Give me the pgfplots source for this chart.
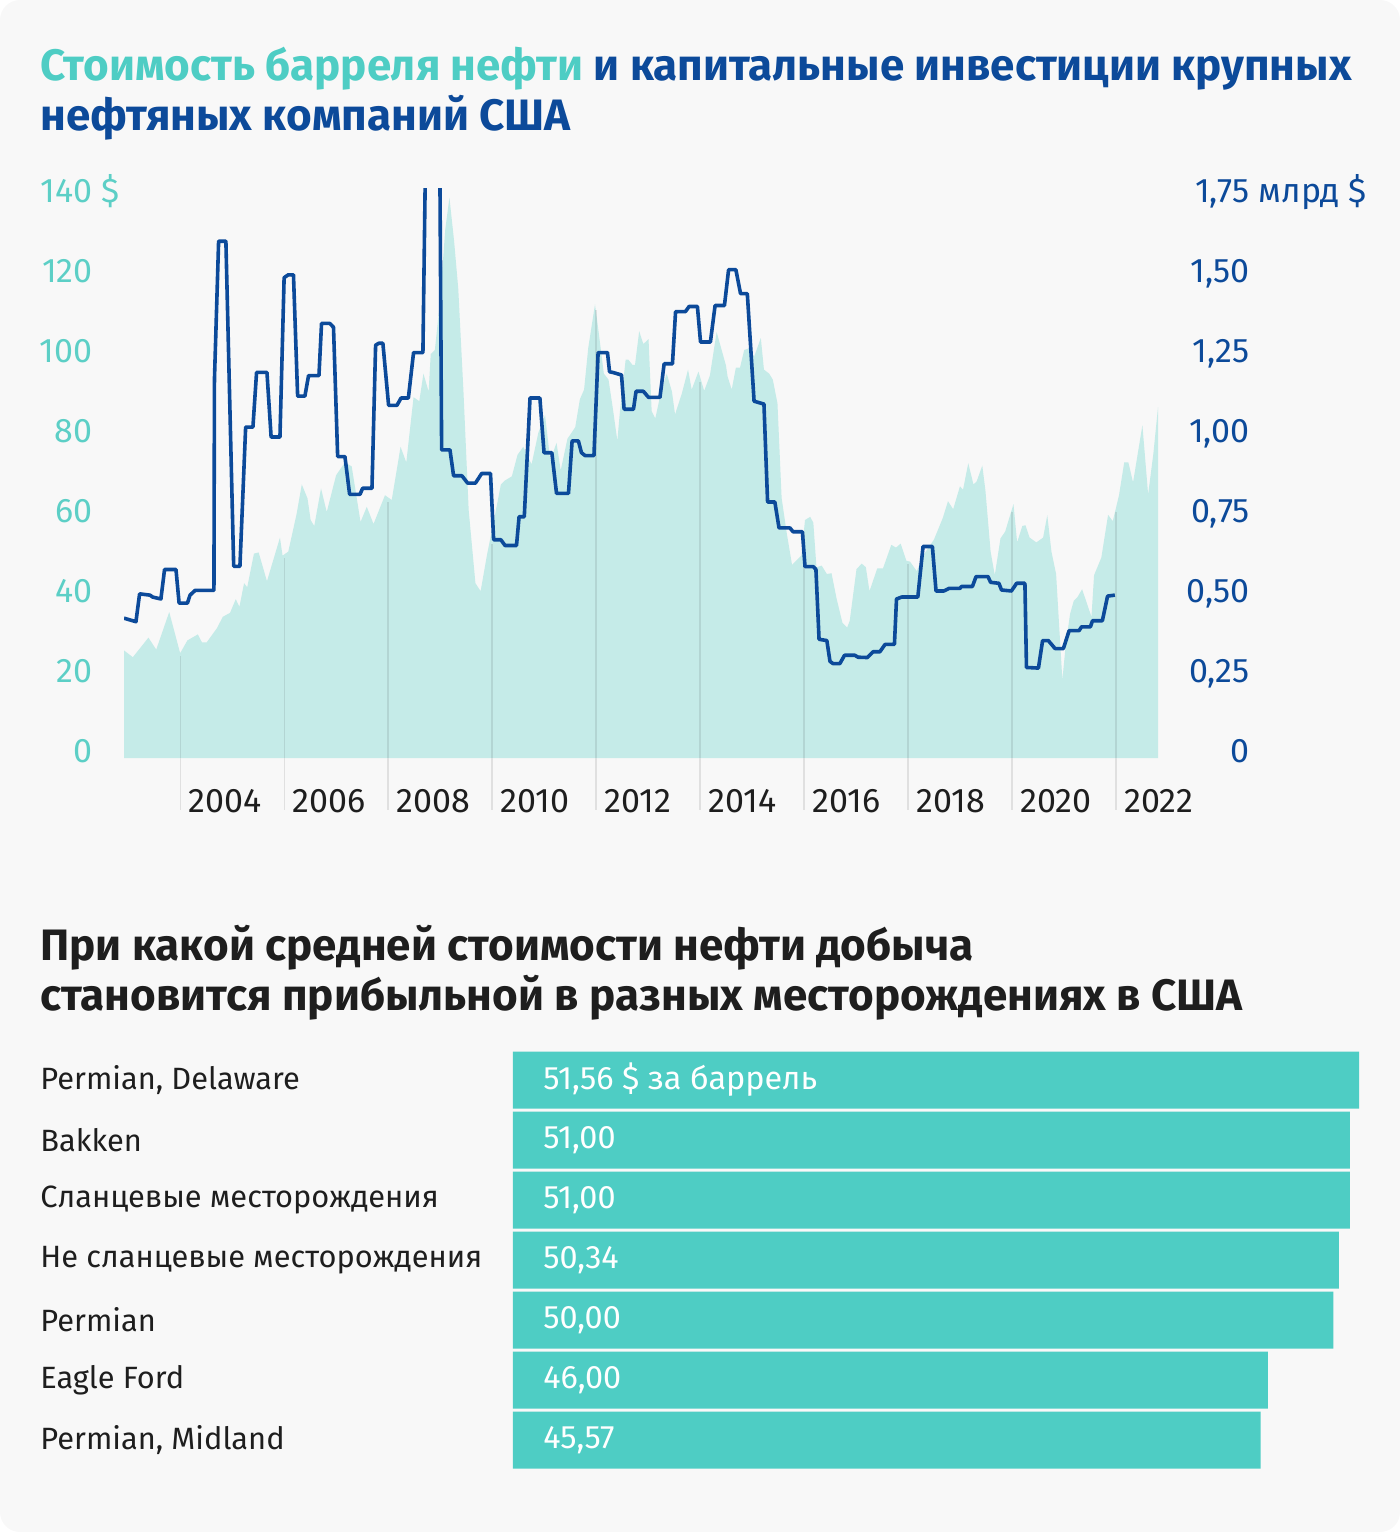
\documentclass[border=0pt]{standalone}
\usepackage{pgfplots}
\pgfplotsset{compat=1.18}
\usepackage{fontspec}
\setmainfont{Fira Sans}
\definecolor{bg}{HTML}{F8F8F8}
\definecolor{tealt}{HTML}{4ECDC4}
\definecolor{tealtick}{HTML}{5CCFC6}
\definecolor{navy}{HTML}{0C4A9A}
\definecolor{areacol}{HTML}{C5EBE8}
\definecolor{barcol}{HTML}{4ECDC4}
\definecolor{txt}{HTML}{1E1E1E}
\begin{document}
\begin{tikzpicture}
\useasboundingbox (0,0) rectangle (700pt,-766pt);
\fill[bg, rounded corners=10pt] (0,0) rectangle (700pt,-766pt);
\node[anchor=base west, inner sep=0pt, font=\fontsize{22}{26}\selectfont\bfseries] at (20pt,-40pt) {\textcolor{tealt}{Стоимость барреля нефти} \textcolor{navy}{и капитальные инвестиции крупных}};
\node[anchor=base west, inner sep=0pt, font=\fontsize{22}{26}\selectfont\bfseries, text=navy] at (20pt,-65pt) {нефтяных компаний США};
\node[anchor=base west, inner sep=0pt, font=\fontsize{22}{26}\selectfont\bfseries, text=txt] at (20pt,-480pt) {При какой средней стоимости нефти добыча};
\node[anchor=base west, inner sep=0pt, font=\fontsize{22}{26}\selectfont\bfseries, text=txt] at (20pt,-505pt) {становится прибыльной в разных месторождениях в США};

% ---------- top chart: oil price (left axis)
\begin{axis}[
  at={(62pt,-379pt)}, anchor=south west,
  scale only axis, width=517pt, height=285pt,
  xmin=2002.92, xmax=2022.81, ymin=0, ymax=142.5,
  axis line style={draw=none},
  xtick={2004,2006,2008,2010,2012,2014,2016,2018,2020,2022},
  xticklabels={2004,2006,2008,2010,2012,2014,2016,2018,2020,2022},
  xtick pos=left,
  tick align=inside,
  major tick length=-26pt,
  xtick style={draw=black!12, line width=0.6pt},
  ytick={0,20,40,60,80,100,120,140},
  yticklabels={0,20,40,60,80,100,120,{140\rlap{ \$}}},
  ytick style={draw=none},
  tick label style={font=\fontsize{17}{19}\selectfont},
  yticklabel style={anchor=base east, inner sep=0pt, xshift=-15.5pt, yshift=-2pt, text=tealtick},
  xticklabel style={anchor=base west, inner sep=0pt, xshift=4pt, yshift=-27pt, text=txt},
]
\addplot[fill=areacol, draw=none] coordinates {
(2002.92,26.9) (2003.09,25.2) (2003.39,30.1) (2003.54,27.1) (2003.79,36.5) (2004.0,26.2) (2004.14,29.4) (2004.34,30.9) (2004.42,28.9) (2004.51,28.9) (2004.71,32.5) (2004.82,35.3) (2004.96,36.3) (2005.07,39.7) (2005.14,37.8) (2005.23,43.7) (2005.29,42.7) (2005.42,51.1) (2005.51,51.4) (2005.67,44.2) (2005.92,55.1) (2005.97,50.6) (2006.08,51.6) (2006.24,61.0) (2006.34,68.4) (2006.45,64.9) (2006.51,59.5) (2006.58,58.0) (2006.71,67.4) (2006.82,61.5) (2007.0,70.7) (2007.17,73.9) (2007.30,72.9) (2007.47,59.0) (2007.59,62.8) (2007.72,58.5) (2007.94,65.7) (2008.07,64.5) (2008.24,77.8) (2008.35,73.9) (2008.49,90.2) (2008.60,89.2) (2008.68,96.1) (2008.78,91.6) (2008.82,101.0) (2008.90,102.0) (2009.0,114.4) (2009.10,132.2) (2009.18,140.1) (2009.27,129.2) (2009.35,117.3) (2009.45,91.6) (2009.55,62.0) (2009.68,43.7) (2009.78,41.7) (2009.90,50.6) (2010.06,61.0) (2010.17,68.4) (2010.25,69.4) (2010.38,70.4) (2010.49,75.8) (2010.60,77.8) (2010.76,73.4) (2010.89,81.3) (2011.02,85.7) (2011.12,74.3) (2011.24,78.8) (2011.32,71.9) (2011.45,79.8) (2011.60,82.7) (2011.69,89.7) (2011.77,92.1) (2011.85,102.5) (2011.98,113.4) (2012.06,105.5) (2012.15,96.1) (2012.24,94.6) (2012.32,87.7) (2012.41,79.3) (2012.46,86.7) (2012.57,99.6) (2012.62,99.6) (2012.70,98.3) (2012.75,98.3) (2012.83,106.7) (2012.91,103.5) (2013.01,104.7) (2013.07,86.7) (2013.14,84.9) (2013.26,92.1) (2013.36,96.1) (2013.46,91.6) (2013.52,85.9) (2013.65,91.1) (2013.77,97.1) (2013.84,92.1) (2013.97,96.6) (2014.08,91.8) (2014.19,95.6) (2014.32,106.5) (2014.50,98.1) (2014.53,95.4) (2014.61,92.1) (2014.69,97.6) (2014.77,97.6) (2014.85,102.0) (2014.96,102.5) (2015.04,100.3) (2015.17,105.0) (2015.23,97.1) (2015.33,96.1) (2015.40,94.6) (2015.49,88.7) (2015.57,65.0) (2015.67,56.1) (2015.77,48.3) (2015.95,50.6) (2016.02,59.5) (2016.12,60.3) (2016.18,58.8) (2016.24,47.7) (2016.34,48.1) (2016.44,46.0) (2016.53,46.2) (2016.63,39.7) (2016.74,33.8) (2016.83,32.6) (2016.88,34.3) (2017.01,47.2) (2017.11,48.6) (2017.19,47.7) (2017.26,41.7) (2017.41,47.4) (2017.52,47.4) (2017.68,53.3) (2017.77,52.6) (2017.86,53.6) (2017.97,49.3) (2018.04,49.1) (2018.17,46.7) (2018.29,50.6) (2018.50,54.6) (2018.67,60.0) (2018.77,64.2) (2018.87,62.2) (2019.00,67.9) (2019.06,67.1) (2019.16,73.7) (2019.26,68.4) (2019.32,69.1) (2019.43,73.1) (2019.49,66.9) (2019.59,51.6) (2019.67,45.7) (2019.78,54.9) (2019.87,56.6) (2020.03,63.5) (2020.10,53.9) (2020.20,58.0) (2020.26,58.2) (2020.34,55.1) (2020.47,53.9) (2020.60,55.1) (2020.68,60.7) (2020.76,51.6) (2020.85,46.0) (2020.97,19.5) (2021.04,28.9) (2021.12,36.1) (2021.19,39.3) (2021.26,40.2) (2021.35,42.2) (2021.53,35.3) (2021.58,45.7) (2021.72,50.1) (2021.85,60.8) (2021.94,59.2) (2022.06,65.7) (2022.16,73.9) (2022.24,73.9) (2022.33,68.9) (2022.51,83.2) (2022.62,65.9) (2022.72,76.0) (2022.81,87.7)
} \closedcycle;
\addplot[ycomb, draw=black, draw opacity=0.09, line width=0.6pt, mark=none] coordinates {
(2004,25.5) (2006,50) (2008,64) (2010,53.5) (2012,112) (2014,94) (2016,56) (2018,48.5) (2020,61.5) (2022,61.5)};
\end{axis}

% ---------- top chart: capex (right axis)
\begin{axis}[
  at={(62pt,-379pt)}, anchor=south west,
  scale only axis, width=517pt, height=285pt,
  xmin=2002.92, xmax=2022.81, ymin=0, ymax=1.78125,
  axis x line=none, axis y line*=right,
  axis line style={draw=none},
  ytick={0,0.25,0.5,0.75,1,1.25,1.5,1.75},
  yticklabels={0,{0,25},{0,50},{0,75},{1,00},{1,25},{1,50},{1,75\rlap{ млрд \$}}},
  ytick style={draw=none},
  tick label style={font=\fontsize{17}{19}\selectfont},
  yticklabel style={anchor=base east, inner sep=0pt, xshift=46pt, yshift=-2pt, text=navy},
]
\addplot[navy, line width=1.8pt, line join=round, mark=none] coordinates {
(2002.92,0.437) (2003.15,0.426) (2003.22,0.513) (2003.42,0.509) (2003.47,0.503) (2003.63,0.497) (2003.70,0.589) (2003.92,0.589) (2003.98,0.484) (2004.14,0.484) (2004.19,0.509) (2004.29,0.524) (2004.65,0.524) (2004.66,1.183) (2004.74,1.615) (2004.88,1.615) (2005.03,0.599) (2005.15,0.599) (2005.26,1.034) (2005.40,1.034) (2005.47,1.205) (2005.67,1.205) (2005.75,1.003) (2005.92,1.003) (2006.00,1.501) (2006.08,1.510) (2006.18,1.510) (2006.26,1.131) (2006.40,1.131) (2006.47,1.195) (2006.67,1.195) (2006.72,1.358) (2006.88,1.358) (2006.95,1.346) (2007.03,0.942) (2007.17,0.942) (2007.26,0.824) (2007.46,0.824) (2007.51,0.843) (2007.69,0.843) (2007.76,1.290) (2007.82,1.296) (2007.90,1.296) (2008.01,1.102) (2008.17,1.102) (2008.25,1.125) (2008.39,1.125) (2008.49,1.267) (2008.67,1.267) (2008.73,2.0) (2008.99,2.0) (2009.03,0.963) (2009.19,0.963) (2009.26,0.882) (2009.42,0.882) (2009.53,0.859) (2009.68,0.859) (2009.80,0.889) (2009.97,0.889) (2010.03,0.682) (2010.17,0.682) (2010.25,0.664) (2010.47,0.664) (2010.52,0.754) (2010.62,0.754) (2010.73,1.125) (2010.92,1.125) (2011.00,0.954) (2011.15,0.954) (2011.24,0.827) (2011.47,0.827) (2011.54,0.991) (2011.66,0.991) (2011.72,0.954) (2011.79,0.945) (2011.96,0.945) (2012.04,1.267) (2012.22,1.267) (2012.26,1.207) (2012.32,1.205) (2012.49,1.197) (2012.54,1.090) (2012.72,1.090) (2012.77,1.146) (2012.91,1.146) (2013.01,1.127) (2013.23,1.127) (2013.31,1.232) (2013.47,1.232) (2013.53,1.395) (2013.72,1.395) (2013.79,1.411) (2013.95,1.411) (2014.01,1.300) (2014.20,1.300) (2014.29,1.414) (2014.47,1.414) (2014.55,1.526) (2014.69,1.526) (2014.78,1.451) (2014.91,1.451) (2015.04,1.115) (2015.23,1.106) (2015.30,0.800) (2015.44,0.800) (2015.52,0.719) (2015.73,0.719) (2015.79,0.707) (2015.97,0.707) (2016.02,0.598) (2016.18,0.598) (2016.23,0.589) (2016.29,0.371) (2016.44,0.367) (2016.50,0.302) (2016.56,0.295) (2016.69,0.295) (2016.78,0.321) (2016.98,0.321) (2017.04,0.315) (2017.22,0.314) (2017.33,0.332) (2017.46,0.332) (2017.56,0.355) (2017.74,0.355) (2017.78,0.497) (2017.88,0.503) (2018.19,0.503) (2018.29,0.661) (2018.47,0.661) (2018.54,0.522) (2018.69,0.522) (2018.79,0.530) (2019.00,0.530) (2019.03,0.536) (2019.24,0.536) (2019.31,0.567) (2019.54,0.567) (2019.59,0.549) (2019.75,0.546) (2019.80,0.525) (2019.99,0.522) (2020.09,0.546) (2020.25,0.546) (2020.28,0.283) (2020.51,0.281) (2020.59,0.367) (2020.70,0.367) (2020.83,0.342) (2020.99,0.342) (2021.10,0.398) (2021.29,0.398) (2021.34,0.410) (2021.51,0.410) (2021.55,0.429) (2021.74,0.429) (2021.84,0.506) (2021.98,0.509)
};
\end{axis}

% ---------- bar chart
\begin{axis}[
  at={(256.5pt,-735pt)}, anchor=south west,
  scale only axis, width=423pt, height=210pt,
  xmin=0, xmax=51.56, ymin=-0.5, ymax=6.5,
  axis line style={draw=none},
  xtick=\empty,
  ytick={0,1,2,3,4,5,6},
  yticklabels={{Permian, Midland},Eagle Ford,Permian,Не сланцевые месторождения,Сланцевые месторождения,Bakken,{Permian, Delaware}},
  ytick style={draw=none},
  yticklabel style={anchor=west, inner sep=0pt, xshift=-236.5pt, text=txt, font=\fontsize{15.4}{18}\selectfont},
]
\addplot[xbar, bar width=28.5pt, bar shift=0pt, fill=barcol, draw=none] coordinates {
(45.57,0) (46,1) (50,2) (50.34,3) (51,4) (51,5) (51.56,6)};
\addplot[draw=none, mark=none, point meta=explicit symbolic, nodes near coords,
  nodes near coords style={anchor=west, inner sep=0pt, xshift=15pt, text=white, font=\fontsize{16.2}{18}\selectfont}] coordinates {
(0,0) [45{,}57] (0,1) [46{,}00] (0,2) [50{,}00] (0,3) [50{,}34] (0,4) [51{,}00] (0,5) [51{,}00] (0,6) [51{,}56 \$ за баррель]};
\end{axis}
\end{tikzpicture}
\end{document}
